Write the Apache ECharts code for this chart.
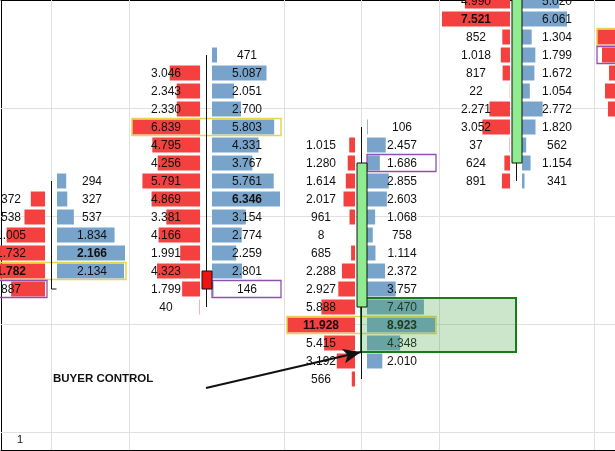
<!DOCTYPE html>
<html>
<head>
<meta charset="utf-8">
<title>Footprint - buyer control</title>
<script src="https://cdn.jsdelivr.net/npm/echarts@6/dist/echarts.min.js"></script>
<style>
  html, body { margin: 0; padding: 0; background: #fff; }
  #chart { width: 615px; height: 451px; }
</style>
</head>
<body>
<div id="chart"></div>
<script>
// ---- data ----
const tick = 0.25;

// price of the first row of every bar (column), rows go down one tick each
const colTopPrice = [2869.00, 2870.75, 2869.75, 2871.75, 2871.00];

const bid0 = [null, 372, 538, 1005, 1732, 1782, 887];
const ask0 = [294, 327, 537, 1834, 2166, 2134, null];

const bid1 = [null, 3046, 2343, 2330, 6839, 4795, 4256, 5791, 4869, 3381, 4166, 1991, 4323, 1799, 40];
const ask1 = [471, 5087, 2051, 2700, 5803, 4331, 3767, 5761, 6346, 3154, 2774, 2259, 2801, 146, null];

const bid2 = [null, 1015, 1280, 1614, 2017, 961, 8, 685, 2288, 2927, 5888, 11928, 5415, 3192, 566];
const ask2 = [106, 2457, 1686, 2855, 2603, 1068, 758, 1114, 2372, 3757, 7470, 8923, 4348, 2010, null];

// first row of this bar sits above the top edge
const bid3 = [6650, 4990, 7521, 852, 1018, 817, 22, 2271, 3052, 37, 624, 891];
const ask3 = [9160, 5020, 6061, 1304, 1799, 1672, 1054, 2772, 1820, 562, 1154, 341];

// only the bid bars of the last column are on screen
const bid4 = [6950, 6440, 5720, 6130, 5830];
const ask4 = [null, null, null, null, null];

const bids = [bid0, bid1, bid2, bid3, bid4];
const asks = [ask0, ask1, ask2, ask3, ask4];

const candleOpen  = [2867.50, 2867.75, 2867.25, 2869.25, 2870.50];
const candleClose = [2867.50, 2867.50, 2869.25, 2872.25, 2872.00];
const candleLow   = [2867.50, 2867.25, 2866.25, 2869.00, 2870.00];
const candleHigh  = [2869.00, 2870.75, 2869.75, 2872.75, 2872.50];

// point of control (yellow) and highlighted cells (purple)
const pocPrice     = [2867.75, 2869.75, 2867.00, null, 2871.00];
const markBidPrice = [2867.50, null, null, null, 2870.75];
const markAskPrice = [null, 2867.50, 2869.25, null, null];
const boldBidPrice = [2867.75, null, 2867.00, 2871.25, null];
const boldAskPrice = [2868.00, 2868.75, 2867.00, null, null];

// buyer control zone: columns and top / bottom rows
const zoneCols = [2, 3];
const zonePrices = [2867.25, 2866.75];
const arrowFrom = [1.0, 2866.125];
const arrowTo = [2.0, 2866.625];
const noteText = 'BUYER CONTROL';
const notePos = [0.013, 2866.25];

const vGrid = [0, 0.5, 1.5, 2, 2.5, 3.5];
const hGrid = [2870.0, 2868.5, 2867.0, 2865.5];

// ---- layout (px at reference size) ----
const COL_PX = 155, ROW_PX = 18;
const GRID_W = 614, GRID_H = 450;
const FIRST_COL_X = 50;      // first candle, from grid left
const FIRST_ROW_Y = 1;       // top row centre, from grid top
const viewTopPrice = 2871.5;
const GAP = 6, MAX_BAR = 68, BAR_H = 15;
const LABEL_OFF_BID = 40, LABEL_OFF_ASK = 41;
const FONT = '"Liberation Sans", Arial, sans-serif';

const xMin = -FIRST_COL_X / COL_PX;
const xMax = xMin + GRID_W / COL_PX;
const yMax = viewTopPrice + FIRST_ROW_Y / ROW_PX * tick;
const yMin = yMax - GRID_H / ROW_PX * tick;

function fmt(v) {
  if (v < 1000) return String(v);
  return Math.floor(v / 1000) + '.' + String(v % 1000).padStart(3, '0');
}

function sideMax(arr) {
  return Math.max.apply(null, arr.filter(v => v != null).concat([1]));
}

// one entry per price row of every column
const cells = [];
bids.forEach((bidArr, col) => {
  const askArr = asks[col];
  const bMax = sideMax(bidArr), aMax = sideMax(askArr);
  bidArr.forEach((b, i) => {
    const price = colTopPrice[col] - i * tick;
    cells.push({ col, price, bid: b, ask: askArr[i], bMax, aMax });
  });
});

const candles = candleOpen.map((o, i) => [i, o, candleClose[i], candleLow[i], candleHigh[i]]);

const gridItems = vGrid.map(v => [v, yMin, 0]).concat(hGrid.map(v => [xMin, v, 1]));

function renderGridLine(params, api) {
  const cs = params.coordSys;
  const p = api.coord([api.value(0), api.value(1)]);
  const style = { stroke: '#e0e0e0', lineWidth: 1 };
  if (api.value(2) === 0) {
    const x = Math.round(p[0]) + 0.5;
    return { type: 'line', shape: { x1: x, y1: cs.y, x2: x, y2: cs.y + cs.height }, style };
  }
  const y = Math.round(p[1]) - 0.5;
  return { type: 'line', shape: { x1: cs.x, y1: y, x2: cs.x + cs.width, y2: y }, style };
}

function renderCell(params, api) {
  const c = cells[params.dataIndex];
  const p = api.coord([c.col, c.price]);
  const unit = api.size([1, tick]);
  const k = unit[0] / COL_PX;
  const rowH = unit[1];
  const barH = rowH * BAR_H / ROW_PX;
  const children = [];

  if (c.bid != null) {
    const len = c.bid / c.bMax * MAX_BAR * k;
    children.push({ type: 'rect',
      shape: { x: p[0] - GAP * k - len, y: p[1] - barH / 2, width: len, height: barH },
      style: { fill: '#f4403f' } });
  }
  if (c.ask != null) {
    const len = c.ask / c.aMax * MAX_BAR * k;
    children.push({ type: 'rect',
      shape: { x: p[0] + GAP * k, y: p[1] - barH / 2, width: len, height: barH },
      style: { fill: '#78a4cb' } });
  }

  const boxH = rowH - 1;
  if (pocPrice[c.col] === c.price) {
    children.push({ type: 'rect',
      shape: { x: p[0] - 74 * k, y: p[1] - boxH / 2, width: 149 * k, height: boxH },
      style: { fill: 'none', stroke: '#e6d54f', lineWidth: 1.5 } });
  }
  if (markBidPrice[c.col] === c.price) {
    children.push({ type: 'rect',
      shape: { x: p[0] - 74 * k, y: p[1] - boxH / 2, width: 70 * k, height: boxH },
      style: { fill: 'none', stroke: '#9050b0', lineWidth: 1.3 } });
  }
  if (markAskPrice[c.col] === c.price) {
    children.push({ type: 'rect',
      shape: { x: p[0] + GAP * k, y: p[1] - boxH / 2, width: 69 * k, height: boxH },
      style: { fill: 'none', stroke: '#9050b0', lineWidth: 1.3 } });
  }

  if (c.bid != null) {
    children.push({ type: 'text', style: {
      text: fmt(c.bid), x: p[0] - LABEL_OFF_BID * k, y: p[1] + 0.5,
      align: 'center', verticalAlign: 'middle', fill: '#111',
      font: (boldBidPrice[c.col] === c.price ? 'bold ' : '') + '12px ' + FONT } });
  }
  if (c.ask != null) {
    children.push({ type: 'text', style: {
      text: fmt(c.ask), x: p[0] + LABEL_OFF_ASK * k, y: p[1] + 0.5,
      align: 'center', verticalAlign: 'middle', fill: '#111',
      font: (boldAskPrice[c.col] === c.price ? 'bold ' : '') + '12px ' + FONT } });
  }
  return { type: 'group', children };
}

function renderCandle(params, api) {
  const col = api.value(0);
  const open = api.coord([col, api.value(1)]);
  const close = api.coord([col, api.value(2)]);
  const low = api.coord([col, api.value(3)]);
  const high = api.coord([col, api.value(4)]);
  const x = Math.round(open[0]) + 0.5;
  const top = Math.min(open[1], close[1]);
  const bottom = Math.max(open[1], close[1]);
  const children = [{ type: 'line',
    shape: { x1: x, y1: high[1], x2: x, y2: low[1] },
    style: { stroke: '#111', lineWidth: 1 } }];
  if (bottom - top < 1) {
    children.push({ type: 'line',
      shape: { x1: x, y1: top, x2: x + 5, y2: top },
      style: { stroke: '#111', lineWidth: 1 } });
  } else {
    children.push({ type: 'rect',
      shape: { x: x - 4.5, y: top, width: 10, height: bottom - top },
      style: { fill: api.value(2) > api.value(1) ? '#90ec90' : '#ee1414', stroke: '#111', lineWidth: 1 } });
  }
  return { type: 'group', children };
}

function renderZone(params, api) {
  const a = api.coord([zoneCols[0], zonePrices[0] + tick / 2]);
  const b = api.coord([zoneCols[1], zonePrices[1] - tick / 2]);
  return { type: 'rect',
    shape: { x: a[0], y: a[1], width: b[0] - a[0], height: b[1] - a[1] },
    style: { fill: 'rgba(70,165,70,0.28)', stroke: '#1b7b1b', lineWidth: 2 } };
}

function renderNote(params, api) {
  const p = api.coord([api.value(0), api.value(1)]);
  const bold = params.dataIndex === 0;
  return { type: 'text', style: {
    text: bold ? noteText : '1', x: p[0], y: p[1],
    align: 'left', verticalAlign: 'middle', fill: '#111',
    font: (bold ? 'bold 11.5px ' : '11px ') + FONT } };
}

const chart = echarts.init(document.getElementById('chart'), null, { renderer: 'canvas' });

const hiddenAxis = {
  axisTick: { show: false }, axisLabel: { show: false }, splitLine: { show: false }
};

chart.setOption({
  animation: false,
  backgroundColor: '#fff',
  grid: { left: 1, right: 0, top: 0, bottom: 1 },
  xAxis: [
    Object.assign({ type: 'value', min: xMin, max: xMax, position: 'bottom',
      axisLine: { show: true, onZero: false, lineStyle: { color: '#000', width: 1 } } }, hiddenAxis),
    Object.assign({ type: 'value', min: xMin, max: xMax, position: 'top',
      axisLine: { show: true, onZero: false, lineStyle: { color: '#000', width: 1 } } }, hiddenAxis)
  ],
  yAxis: Object.assign({ type: 'value', min: yMin, max: yMax,
    axisLine: { show: true, onZero: false, lineStyle: { color: '#000', width: 1 } } }, hiddenAxis),
  series: [
    {
      type: 'custom', z: 1, silent: true,
      renderItem: renderGridLine,
      data: gridItems
    },
    {
      type: 'custom', z: 2, silent: true,
      renderItem: renderCell,
      data: cells.map(c => [c.col, c.price])
    },
    {
      type: 'custom', z: 3, silent: true,
      renderItem: renderZone,
      data: [[zoneCols[0], zonePrices[0]]]
    },
    {
      type: 'custom', z: 4, silent: true,
      renderItem: renderCandle,
      data: candles
    },
    {
      type: 'custom', z: 5, silent: true,
      renderItem: renderNote,
      data: [notePos, [-0.22, 2865.4]],
      markLine: {
        silent: true, animation: false,
        symbol: ['none', 'arrow'], symbolSize: [11, 18],
        label: { show: false },
        lineStyle: { color: '#111', width: 2, type: 'solid' },
        data: [[{ coord: arrowFrom }, { coord: arrowTo }]]
      }
    }
  ]
});
</script>
</body>
</html>
